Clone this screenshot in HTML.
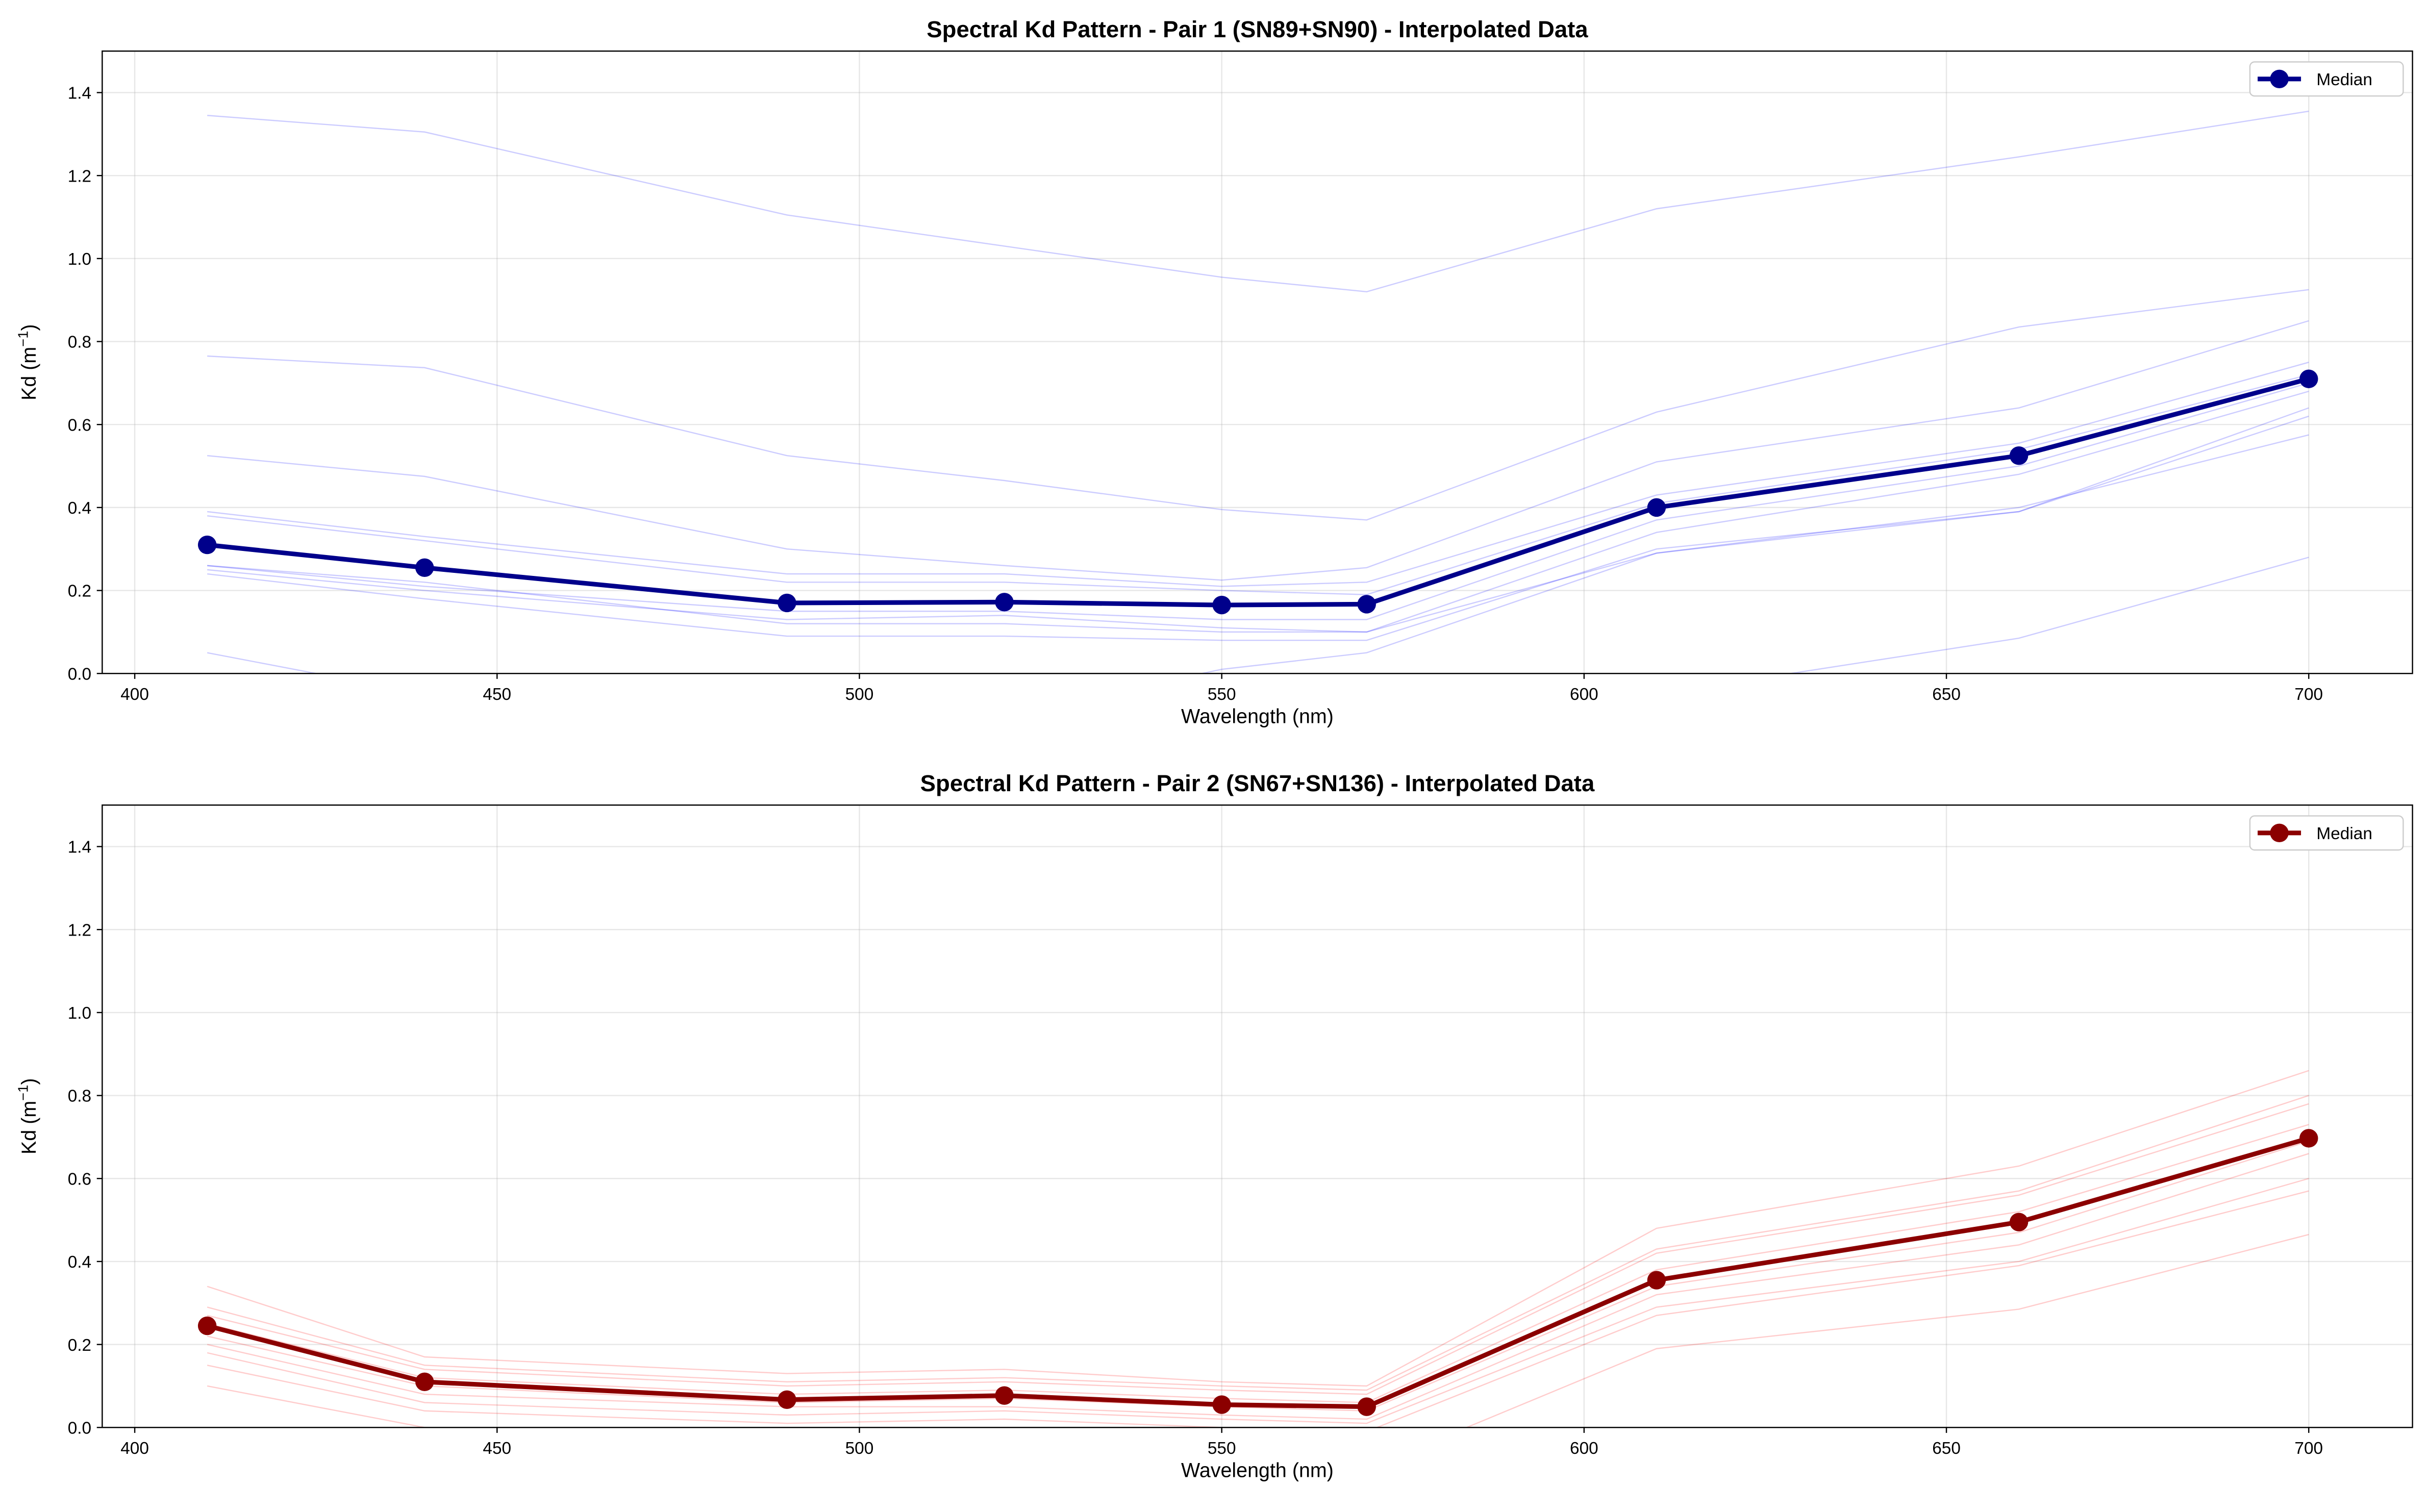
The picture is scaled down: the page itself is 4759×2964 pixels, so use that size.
<!DOCTYPE html>
<html><head><meta charset="utf-8"><style>
html,body{margin:0;padding:0;background:#fff}
svg{display:block}
text{font-family:"Liberation Sans","DejaVu Sans",sans-serif;fill:#000}
</style></head><body>
<svg id="s" width="4759" height="2964" viewBox="0 0 1568 976.6" xmlns="http://www.w3.org/2000/svg"></svg>
<script>
const S=document.getElementById('s');let h='';
const W=[410,440,490,520,550,570,610,660,700];
const X=w=>87+(w-400)*4.68;
function panel(top,bot,title,thin,med,col,thinCol,clip){
 const yy=v=>bot-v*((bot-top)/1.5);
 h+=`<defs><clipPath id="${clip}"><rect x="66" y="${top}" width="1492" height="${bot-top}"/></clipPath></defs>`;
 for(let w=400;w<=700;w+=50){h+=`<line x1="${X(w)}" y1="${top}" x2="${X(w)}" y2="${bot}" stroke="#b0b0b0" stroke-opacity="0.3" stroke-width="0.8"/>`;
  h+=`<line x1="${X(w)}" y1="${bot}" x2="${X(w)}" y2="${bot+3.5}" stroke="#000" stroke-width="0.8"/><text x="${X(w)}" y="${bot+17}" font-size="11" text-anchor="middle">${w}</text>`;}
 for(let i=0;i<=7;i++){const v=i*0.2,y=yy(v);h+=`<line x1="66" y1="${y}" x2="1558" y2="${y}" stroke="#b0b0b0" stroke-opacity="0.3" stroke-width="0.8"/>`;
  h+=`<line x1="62.5" y1="${y}" x2="66" y2="${y}" stroke="#000" stroke-width="0.8"/><text x="59" y="${y+4}" font-size="11" text-anchor="end">${v.toFixed(1)}</text>`;}
 h+=`<g clip-path="url(#${clip})">`;
 thin.forEach(d=>{h+=`<polyline fill="none" stroke="${thinCol}" stroke-opacity="0.2" stroke-width="0.8" points="${d.map((v,i)=>X(W[i])+','+yy(v)).join(' ')}"/>`;});
 h+=`<polyline fill="none" stroke="${col}" stroke-width="3" stroke-linejoin="round" points="${med.map((v,i)=>X(W[i])+','+yy(v)).join(' ')}"/>`;
 med.forEach((v,i)=>{h+=`<circle cx="${X(W[i])}" cy="${yy(v)}" r="6" fill="${col}"/>`;});
 h+=`</g><rect x="66" y="${top}" width="1492" height="${bot-top}" fill="none" stroke="#000" stroke-width="0.8"/>`;
 h+=`<text x="812" y="${top-9}" font-size="15" font-weight="bold" text-anchor="middle">${title}</text>`;
 h+=`<text x="812" y="${bot+32}" font-size="13" text-anchor="middle">Wavelength (nm)</text>`;
 const cy=(top+bot)/2;
 h+=`<text transform="translate(23,${cy}) rotate(-90)" font-size="13" text-anchor="middle">Kd (m<tspan font-size="9" dy="-5">−1</tspan><tspan dy="5">)</tspan></text>`;
 h+=`<rect x="1453" y="${top+7}" width="99" height="22" rx="3" fill="#fff" stroke="#ccc" stroke-width="0.8"/>`;
 h+=`<line x1="1458" y1="${top+18}" x2="1486" y2="${top+18}" stroke="${col}" stroke-width="3"/><circle cx="1472" cy="${top+18}" r="6" fill="${col}"/>`;
 h+=`<text x="1496" y="${top+22}" font-size="11">Median</text>`;
}
panel(33,435,"Spectral Kd Pattern - Pair 1 (SN89+SN90) - Interpolated Data",[
[1.345,1.305,1.105,1.03,0.955,0.92,1.12,1.245,1.355],
[0.765,0.737,0.525,0.465,0.395,0.37,0.63,0.835,0.925],
[0.525,0.475,0.30,0.26,0.225,0.255,0.51,0.64,0.85],
[0.39,0.33,0.24,0.24,0.21,0.22,0.43,0.555,0.75],
[0.38,0.32,0.22,0.22,0.20,0.19,0.41,0.54,0.72],
[0.26,0.21,0.15,0.15,0.13,0.13,0.37,0.50,0.70],
[0.25,0.20,0.13,0.14,0.11,0.10,0.34,0.48,0.68],
[0.24,0.18,0.09,0.09,0.08,0.08,0.30,0.39,0.64],
[0.26,0.22,0.12,0.12,0.10,0.10,0.29,0.40,0.575],
[0.05,-0.05,-0.15,-0.1,0.01,0.05,0.29,0.39,0.62],
[-0.3,-0.3,-0.3,-0.3,-0.3,-0.3,-0.05,0.085,0.28]],
[0.31,0.255,0.17,0.172,0.165,0.167,0.40,0.525,0.71],"#00008b","#0000ff","c1");
panel(520,922,"Spectral Kd Pattern - Pair 2 (SN67+SN136) - Interpolated Data",[
[0.34,0.17,0.13,0.14,0.11,0.10,0.48,0.63,0.86],
[0.29,0.15,0.11,0.12,0.10,0.09,0.43,0.57,0.80],
[0.27,0.14,0.10,0.11,0.09,0.08,0.42,0.56,0.78],
[0.25,0.12,0.08,0.09,0.07,0.06,0.38,0.52,0.73],
[0.22,0.10,0.06,0.07,0.05,0.04,0.34,0.47,0.69],
[0.20,0.08,0.05,0.05,0.03,0.02,0.32,0.44,0.66],
[0.18,0.06,0.03,0.04,0.02,0.01,0.29,0.40,0.60],
[0.15,0.04,0.01,0.02,0.0,-0.01,0.27,0.39,0.57],
[0.10,0.0,-0.05,-0.05,-0.05,-0.1,0.19,0.285,0.465]],
[0.245,0.11,0.067,0.077,0.055,0.05,0.355,0.495,0.697],"#8b0000","#ff0000","c2");
S.innerHTML=h;
</script>
</body></html>
